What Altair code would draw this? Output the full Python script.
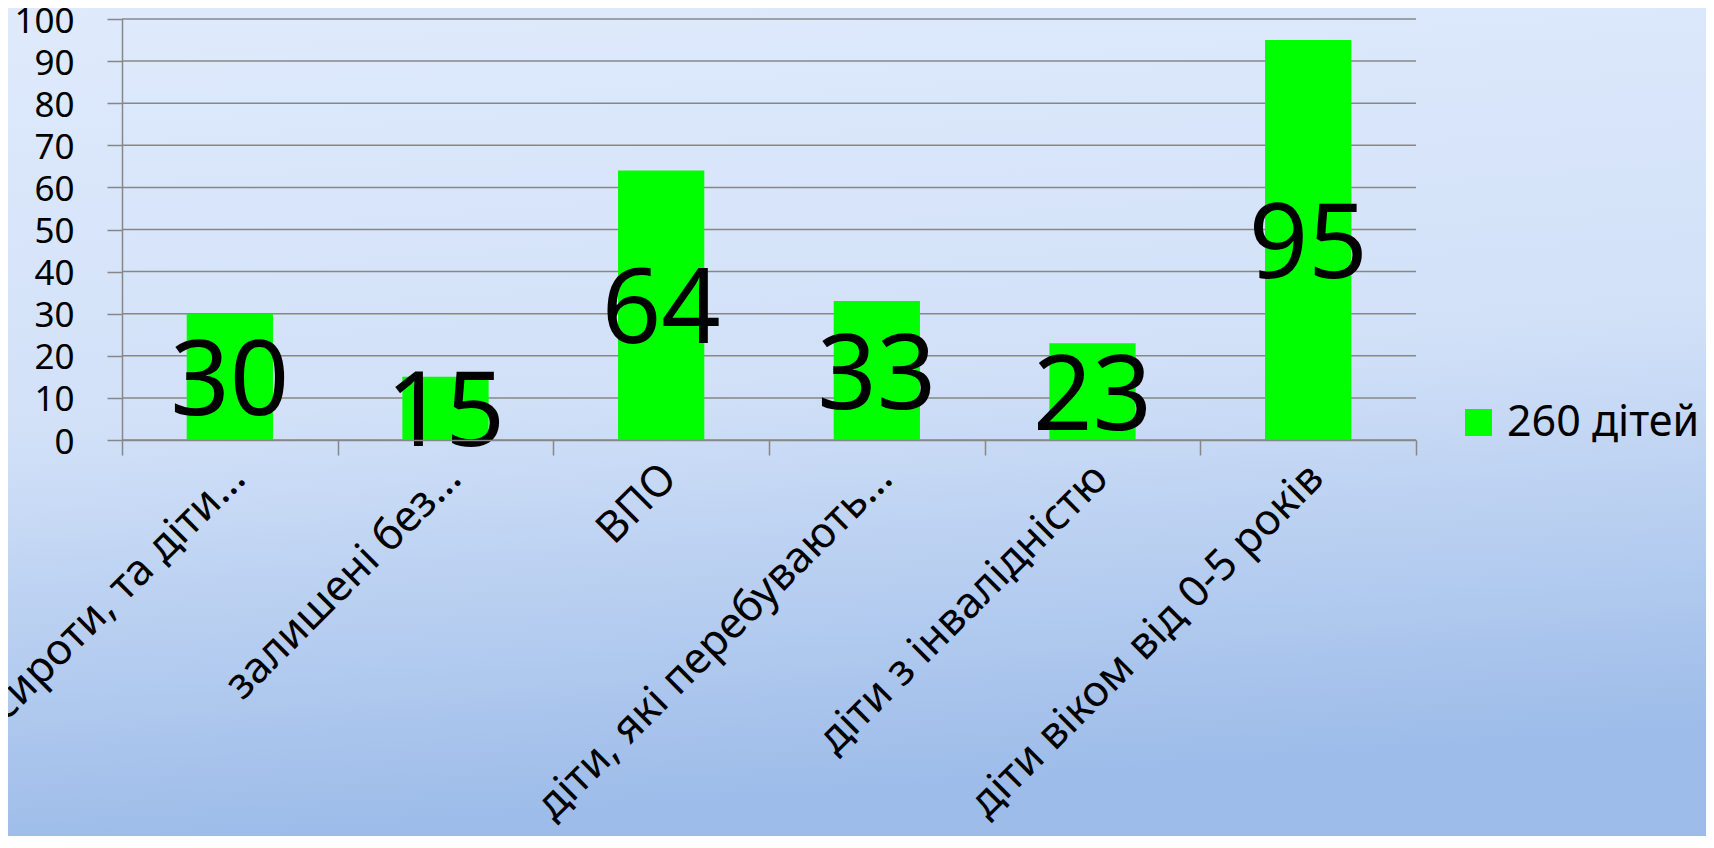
import altair as alt
import pandas as pd

categories = [
    "діти - сироти, та діти…",
    "залишені без…",
    "ВПО",
    "діти, які перебувають…",
    "діти з інвалідністю",
    "діти віком від 0-5 років",
]
values = [30, 15, 64, 33, 23, 95]
series_name = "260 дітей"
y_ticks = [0, 10, 20, 30, 40, 50, 60, 70, 80, 90, 100]

df = pd.DataFrame({"category": categories, "value": values, "series": [series_name] * len(values)})
grid_df = pd.DataFrame({"tick": y_ticks})

FONT = "Noto Sans"
GRID = "#878787"
W, H = 1294, 421
PAD = {"left": 114, "top": 11, "right": 1698 - 114 - W, "bottom": 828 - 11 - H}

y_scale = alt.Scale(domain=[0, 100], nice=False)
x_scale = alt.Scale(paddingInner=0, paddingOuter=0)

y_axis = alt.Axis(
    title=None,
    values=y_ticks,
    labelFontSize=35,
    labelFont=FONT,
    labelColor="black",
    labelPadding=33,
    labelOffset=2,
    tickSize=15,
    tickColor=GRID,
    tickWidth=1.5,
    domainColor=GRID,
    domainWidth=1.5,
    grid=False,
    zindex=1,
)

x_axis = alt.Axis(
    title=None,
    labelAngle=-45,
    labelAlign="right",
    labelBaseline="middle",
    labelFontSize=43,
    labelFont=FONT,
    labelColor="black",
    labelPadding=16,
    labelOffset=8,
    labelLimit=2000,
    labelOverlap=False,
    tickBand="extent",
    tickSize=15,
    tickColor=GRID,
    tickWidth=1.5,
    domainColor=GRID,
    domainWidth=1.5,
    grid=False,
    zindex=1,
)

bg = (
    alt.Chart(alt.Data(values=[{"a": 1}]))
    .mark_rect(
        color=alt.Gradient(
            gradient="linear",
            x1=0, y1=0, x2=0.15, y2=1,
            stops=[
                alt.GradientStop(offset=0, color="#dfeafc"),
                alt.GradientStop(offset=0.5, color="#d2e1f8"),
                alt.GradientStop(offset=1, color="#9dbce9"),
            ],
        )
    )
    .encode(
        x=alt.value(-PAD["left"]),
        x2=alt.value(W + PAD["right"]),
        y=alt.value(-PAD["top"]),
        y2=alt.value(H + PAD["bottom"]),
    )
)

grid = (
    alt.Chart(grid_df)
    .mark_rule(color=GRID, strokeWidth=1.5)
    .encode(y=alt.Y("tick:Q", scale=y_scale, axis=y_axis))
)

base = alt.Chart(df)

bars = base.mark_bar(width=alt.RelativeBandSize(0.4)).encode(
    x=alt.X("category:N", sort=categories, scale=x_scale, axis=x_axis),
    y=alt.Y("value:Q", scale=y_scale, axis=y_axis),
    color=alt.Color(
        "series:N",
        scale=alt.Scale(range=["#00ff00"]),
        legend=alt.Legend(
            title=None,
            orient="none",
            legendX=1335,
            legendY=382,
            symbolType="square",
            symbolSize=729,
            symbolStrokeWidth=0,
            labelFontSize=43,
            labelFont=FONT,
            labelColor="black",
            labelOffset=7,
            labelLimit=1000,
        ),
    ),
)

labels = (
    base.transform_calculate(mid="datum.value / 2")
    .mark_text(fontSize=104, font=FONT, color="black", align="center", baseline="middle", dy=7)
    .encode(
        x=alt.X("category:N", sort=categories, scale=x_scale, axis=x_axis),
        y=alt.Y("mid:Q", scale=y_scale, axis=y_axis),
        text=alt.Text("value:Q"),
    )
)

chart = (
    alt.layer(bg, grid, bars, labels)
    .properties(width=W, height=H, padding=PAD, autosize=alt.AutoSizeParams(type="none"))
    .configure_view(stroke=None)
    .configure(background="#d9e6fa")
)

chart.save("out.html", embed_options={"renderer": "svg", "actions": False})
